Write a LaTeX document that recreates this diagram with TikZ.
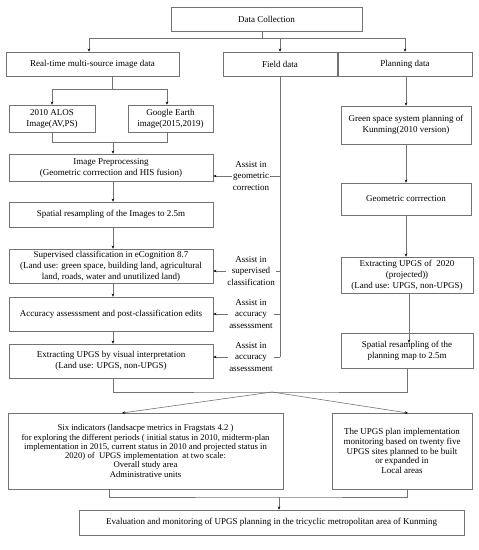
\documentclass[tikz,border=0pt]{standalone}
\usepackage{fontspec}
\setmainfont{Liberation Serif}
\usetikzlibrary{arrows.meta,calc}
\begin{document}
\begin{tikzpicture}[x=1pt,y=-1pt,
  box/.style={draw=black!55,line width=0.6pt,rectangle,inner sep=1pt,align=center,font=\fontsize{9}{11}\selectfont},
  lbl/.style={inner sep=1pt,align=center,font=\fontsize{9}{11.5}\selectfont},
  ln/.style={draw=black!55,line width=0.6pt},
  arr/.style={ln,-{Stealth[length=3pt,width=2.6pt,black]}}]
\useasboundingbox (0,0) rectangle (479,550);
% left column
\node[box,minimum width=191pt,minimum height=24pt] (dc) at (266.5,19) {Data Collection};
\node[box,minimum width=173pt,minimum height=24pt] (rt) at (92.5,64) {Real-time multi-source image data};
\node[box,minimum width=114pt,minimum height=24pt] (fd) at (280,64) {Field data};
\node[box,minimum width=134pt,minimum height=24pt] (pd) at (405,64) {Planning data};
\node[box,minimum width=86pt,minimum height=27pt] (alos) at (52,118.5) {2010 ALOS\\Image(AV,PS)};
\node[box,minimum width=85pt,minimum height=27pt] (ge) at (170.5,118.5) {Google Earth\\image(2015,2019)};
\node[box,minimum width=204pt,minimum height=27pt] (ip) at (111,167.5) {Image Preprocessing\\(Geometric corrrection and HIS fusion)};
\node[box,minimum width=204pt,minimum height=25pt] (sr) at (111,214.5) {Spatial resampling of the Images to 2.5m};
\node[box,minimum width=204pt,minimum height=34pt] (sc) at (111,266) {Supervised classification in eCognition 8.7\\(Land use: green space, building land, agricultural\\land, roads, water and unutilized land)};
\node[box,minimum width=204pt,minimum height=34pt] (aa) at (111,314) {Accuracy assesssment and post-classification edits};
\node[box,minimum width=204pt,minimum height=34pt] (ex) at (111,361) {Extracting UPGS by visual interpretation\\(Land use: UPGS, non-UPGS)};
% right column
\node[box,minimum width=130pt,minimum height=38pt] (gs) at (406,125) {Green space system planning of\\Kunming(2010 version)};
\node[box,minimum width=130pt,minimum height=32pt] (gc) at (406,199) {Geometric corrrection};
\node[box,minimum width=132pt,minimum height=36pt] (eu) at (407,275) {Extracting UPGS of\ \ 2020\\(projected))\\(Land use: UPGS, non-UPGS)};
\node[box,minimum width=132pt,minimum height=35pt] (sp) at (407,350.5) {Spatial resampling of the\\planning map to 2.5m};
% bottom
\node[box,minimum width=275pt,minimum height=76pt,font=\fontsize{8.7}{9.3}\selectfont] (six) at (145.5,451) {Six indicators (landsacpe metrics in Fragstats 4.2 )\\for exploring the different periods ( initial status in 2010, midterm-plan\\implementation in 2015, current status in 2010 and projected status in\\2020) of\ \ UPGS implementation\ \ at two scale:\\Overall study area\\Administrative units};
\node[box,minimum width=140pt,minimum height=76pt,font=\fontsize{9}{9.7}\selectfont] (upgs) at (402,451) {The UPGS plan implementation\\monitoring based on twenty five\\UPGS sites planned to be built\\or expanded in\\Local areas};
\node[box,minimum width=385pt,minimum height=25pt] (ev) at (271.5,522.5) {Evaluation and monitoring of UPGS planning in the tricyclic metropolitan area of Kunming};
% assist labels
\node[lbl] (a1) at (251,176) {Assist in\\geometric\\correction};
\node[lbl] (a2) at (251,271) {Assist in\\supervised\\classification};
\node[lbl] (a3) at (251,314) {Assist in\\accuracy\\assesssment};
\node[lbl] (a4) at (251,357) {Assist in\\accuracy\\assesssment};
% junctions
\coordinate (j1) at (262,38);
\coordinate (j2) at (112,89);
\coordinate (j3) at (113,142);
\coordinate (m) at (272,392);
\coordinate (t1) at (122,413);
\coordinate (t2) at (408,413);
\coordinate (b1) at (109,497);
\coordinate (b2) at (407,497);
\coordinate (b3) at (279,497);
\coordinate (f4) at (280,357);
% connectors top
\draw[ln] (dc.south -| j1) -- (j1);
\draw[arr] (j1) -| (rt.north -| 89,0);
\draw[arr] (j1) -| (fd.north);
\draw[arr] (j1) -| (pd.north);
\draw[ln] (rt.south -| j2) -- (j2);
\draw[arr] (j2) -| (alos.north);
\draw[arr] (j2) -| (ge.north -| 167,0);
\draw[ln] (alos.south) |- (j3);
\draw[ln] (ge.south -| 167,0) |- (j3);
\draw[arr] (j3) -- (ip.north -| j3);
\draw[arr] (ip.south -| j3) -- (sr.north -| j3);
\draw[arr] (sr.south -| j3) -- (sc.north -| j3);
\draw[arr] (sc.south -| j3) -- (aa.north -| j3);
\draw[arr] (aa.south -| j3) -- (ex.north -| j3);
% field data
\draw[ln] (fd.south) -- (f4);
\draw[ln] (a1.east) -- (a1.east -| f4);
\draw[ln] (a2.east) -- (a2.east -| f4);
\draw[ln] (a3.east) -- (a3.east -| f4);
\draw[ln] (a4.east) -- (f4);
\draw[arr] (a1.west) -- (a1.west -| ip.east);
\draw[arr] (a2.west) -- (a2.west -| sc.east);
\draw[arr] (a3.west) -- (a3.west -| aa.east);
\draw[arr] (a4.west) -- (a4.west -| ex.east);
% right column
\draw[arr] (pd.south -| 406,0) -- (gs.north);
\draw[arr] (gs.south) -- (gc.north);
\draw[arr] (gc.south) -- (eu.north -| gc.south);
\draw[arr] (eu.south -| 409,0) -- ([yshift=-10pt]sp.north -| 409,0);
% merge
\draw[ln] (ex.south -| j3) |- (m) -| (sp.south);
\draw[arr] (m) -- (t1);
\draw[arr] (m) -- (t2);
\draw[ln] (six.south -| b1) |- (b3) -| (upgs.south -| b2);
\draw[arr] (b3) -- (ev.north -| b3);
\end{tikzpicture}
\end{document}
